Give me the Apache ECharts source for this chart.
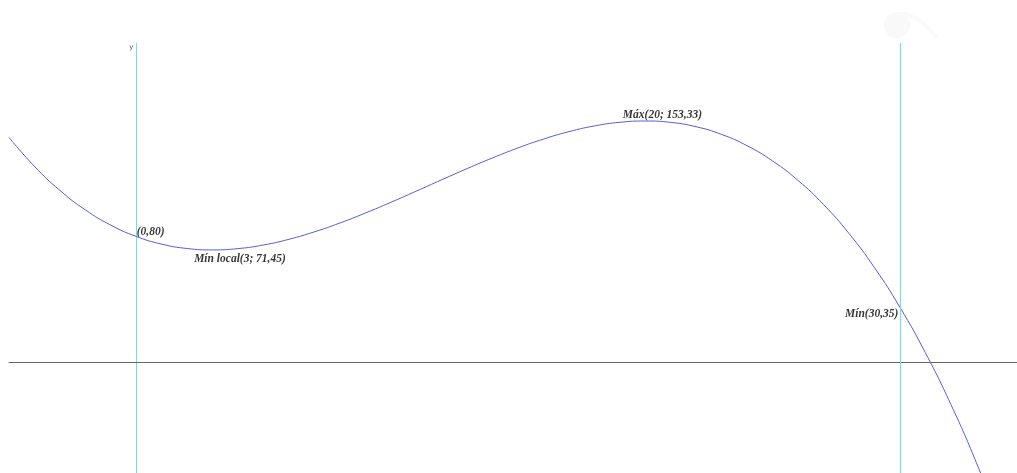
<!DOCTYPE html>
<html>
<head>
<meta charset="utf-8">
<script src="https://cdn.jsdelivr.net/npm/echarts@6/dist/echarts.min.js"></script>
<style>
html,body{margin:0;padding:0;background:#fff;}
#chart{width:1017px;height:473px;}
</style>
</head>
<body>
<div id="chart"></div>
<script>
// Curve samples (x, y)
const curveX = [-5,-4,-3,-2,-1,0,1,2,3,4,5,6,7,8,9,10,11,12,13,14,15,16,17,18,19,20,21,22,23,24,25,26,27,28,29,30,31,32,33,34];
const curveY = [142.92,124.53,109.25,96.87,87.18,80,75.12,72.33,71.45,72.27,74.58,78.2,82.92,88.53,94.85,101.67,108.78,116.0,123.12,129.93,136.25,141.87,146.58,150.2,152.52,153.33,152.45,149.67,144.78,137.6,127.92,115.53,100.25,81.87,60.18,35,6.12,-26.67,-63.55,-104.73];
// Annotated points
const noteX = [0, 3, 20, 30];
const noteY = [80, 71.45, 153.33, 35];
const noteText = ['(0,80)', 'Mín local(3; 71,45)', 'Máx(20; 153,33)', 'Mín(30,35)'];
// Vertical guide lines
const guideX = [30];

const labelStyles = [
  {position:'right', distance:0, offset:[0,-4]},
  {position:'right', distance:0, offset:[-19,9]},
  {position:'right', distance:0, offset:[-23,-6]},
  {position:'left', distance:0, offset:[-1,7]}
];

const chart = echarts.init(document.getElementById('chart'), null, {renderer:'canvas'});
chart.setOption({
  animation:false,
  backgroundColor:'#ffffff',
  grid:{left:9, right:0, top:43, bottom:0, containLabel:false},
  xAxis:{
    type:'value', min:-5, max:34.6,
    axisLine:{show:true, onZero:true, lineStyle:{color:'#666666', width:1}},
    axisTick:{show:false}, axisLabel:{show:false}, splitLine:{show:false}
  },
  yAxis:{
    type:'value', min:-70.3, max:202.9,
    name:'y', nameLocation:'end', nameGap:-8,
    nameTextStyle:{fontSize:7, color:'#555', align:'right', padding:[0,3,0,0], fontFamily:'DejaVu Sans'},
    axisLine:{show:true, onZero:true, lineStyle:{color:'#6ee2e2', width:1}},
    axisTick:{show:false}, axisLabel:{show:false}, splitLine:{show:false}
  },
  graphic:[
    {type:'circle', shape:{cx:897, cy:25, r:13}, style:{fill:'#f9f9f9'}, silent:true},
    {type:'bezierCurve', shape:{x1:898, y1:14, x2:936, y2:37, cpx1:917, cpy1:12}, style:{stroke:'#fafafa', lineWidth:4, fill:null, lineCap:'round'}, silent:true}
  ],
  series:[
    {
      type:'line', smooth:0.5, symbol:'none', clip:true,
      lineStyle:{color:'#5b5bd0', width:1},
      data: curveX.map((x,i)=>[x, curveY[i]]),
      markLine:{
        silent:true, symbol:['none','none'], label:{show:false},
        lineStyle:{color:'#6ee2e2', width:1, type:'solid'},
        data: guideX.map(x=>({xAxis:x}))
      }
    },
    {
      type:'scatter', symbol:'circle', symbolSize:1, itemStyle:{color:'rgba(0,0,0,0)'},
      data: noteX.map((x,i)=>({
        value:[x, noteY[i]],
        label:Object.assign({show:true, formatter:noteText[i]}, labelStyles[i])
      })),
      label:{
        show:true, color:'#000', fontSize:11.5, fontWeight:'bold', fontStyle:'italic',
        fontFamily:'Liberation Serif'
      }
    }
  ]
});
</script>
</body>
</html>
